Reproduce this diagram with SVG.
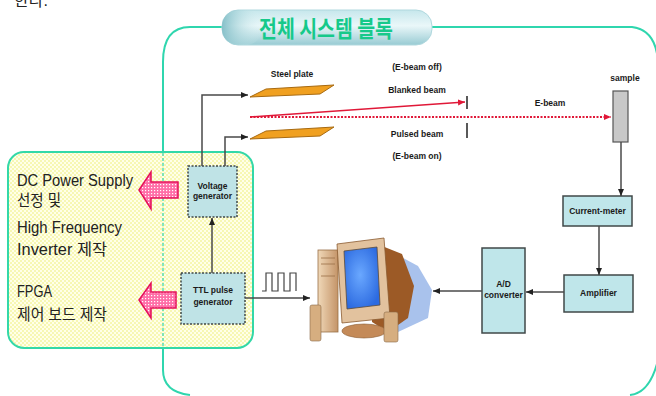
<svg xmlns="http://www.w3.org/2000/svg" width="656" height="396" viewBox="0 0 656 396">
  <style>
    .frame { fill: none; stroke: #2fd6ae; stroke-width: 2; }
    .wire { fill: none; stroke: #4a4a4a; stroke-width: 1.5; }
    .box { fill: #bfe6ea; stroke: #404848; stroke-width: 1.5; }
    .gen { fill: #bfe3e6; stroke: #404848; stroke-width: 1.5; stroke-dasharray: 2 1.5; }
    .lbl { font-family: "Liberation Sans", Arial, sans-serif; font-weight: bold; font-size: 8.5px; fill: #1a1a1a; text-anchor: middle; }
    .big { font-family: "Liberation Sans", "Noto Sans CJK KR", sans-serif; font-size: 16px; fill: #222; }
    .plate { fill: #f0a020; stroke: #a86a10; stroke-width: 1; }
    .note { fill: url(#pinkDots); stroke: #e4105a; stroke-width: 1.5; }
  </style>
  <defs>
    <marker id="arr" markerWidth="8" markerHeight="8" refX="7" refY="4" orient="auto" markerUnits="userSpaceOnUse">
      <path d="M0,1 L7,4 L0,7 Z" fill="#222"/>
    </marker>
    <marker id="arrRed" markerWidth="8" markerHeight="8" refX="7" refY="4" orient="auto" markerUnits="userSpaceOnUse">
      <path d="M0,1 L7,4 L0,7 Z" fill="#e01838"/>
    </marker>
    <pattern id="yellowDots" width="4" height="4" patternUnits="userSpaceOnUse">
      <rect width="4" height="4" fill="#ffffe8"/>
      <circle cx="1" cy="1" r="0.8" fill="#eeee70"/>
      <circle cx="3" cy="3" r="0.8" fill="#eeee70"/>
    </pattern>
    <pattern id="pinkDots" width="3" height="3" patternUnits="userSpaceOnUse">
      <rect width="3" height="3" fill="#ff6fa8"/>
      <rect x="1" y="1" width="1.2" height="1.2" fill="#ffffff"/>
    </pattern>
    <linearGradient id="pill" x1="0" y1="0" x2="0" y2="1">
      <stop offset="0" stop-color="#c6e7ec"/>
      <stop offset="0.45" stop-color="#eaf7f9"/>
      <stop offset="1" stop-color="#98cbd3"/>
    </linearGradient>
    <linearGradient id="pillCap" x1="0" y1="0" x2="1" y2="0">
      <stop offset="0" stop-color="#86c0c9"/>
      <stop offset="1" stop-color="#d8f0f2" stop-opacity="0"/>
    </linearGradient>
    <radialGradient id="screen" cx="0.45" cy="0.45" r="0.6">
      <stop offset="0" stop-color="#6aa8ff"/>
      <stop offset="1" stop-color="#2c6ae0"/>
    </radialGradient>
    <linearGradient id="tower" x1="0" y1="0" x2="1" y2="0">
      <stop offset="0" stop-color="#f0d8b8"/>
      <stop offset="1" stop-color="#c49468"/>
    </linearGradient>
  </defs>

  <!-- sentence ending running off the top edge -->
  <text x="14" y="6" class="big">한다.</text>

  <!-- outer system frame -->
  <path class="frame" d="M163,370 L163,62 Q163,27 190,27 L222,27 M432,27 L632,27 Q656,30 658,62 M658,360 Q650,393 630,395 M190,395 Q163,392 163,370"/>

  <!-- title capsule -->
  <g id="title">
    <rect x="222" y="10" width="210" height="35" rx="16" fill="url(#pill)" stroke="#b0d8de" stroke-width="1"/>
    <rect x="222" y="10" width="40" height="35" rx="16" fill="url(#pillCap)"/>
    <text x="326" y="37" text-anchor="middle" textLength="134" lengthAdjust="spacingAndGlyphs" font-family="'Noto Sans CJK KR', sans-serif" font-weight="bold" font-size="23" fill="#16c98a">전체 시스템 블록</text>
  </g>

  <!-- development tasks panel -->
  <g id="tasks">
    <rect x="8" y="152" width="245" height="196" rx="16" fill="url(#yellowDots)" stroke="#33d8a8" stroke-width="2"/>
    <line x1="163" y1="153" x2="163" y2="347" stroke="#2fd6ae" stroke-width="1.2" stroke-dasharray="3 2"/>
    <text class="big" x="17" y="186" textLength="116" lengthAdjust="spacingAndGlyphs">DC Power Supply</text>
    <text class="big" x="17" y="206" textLength="44" lengthAdjust="spacingAndGlyphs">선정 및</text>
    <text class="big" x="17" y="233" textLength="105" lengthAdjust="spacingAndGlyphs">High Frequency</text>
    <text class="big" x="17" y="255" textLength="90" lengthAdjust="spacingAndGlyphs">Inverter 제작</text>
    <text class="big" x="17" y="297" textLength="35" lengthAdjust="spacingAndGlyphs">FPGA</text>
    <text class="big" x="17" y="320" textLength="90" lengthAdjust="spacingAndGlyphs">제어 보드 제작</text>
  </g>

  <g id="note-power">
    <path class="note" d="M139,190 L151,172 L151,182 L178,182 L178,198 L151,198 L151,209 Z"/>
  </g>
  <g id="note-fpga">
    <path class="note" d="M139,300 L151,283 L151,292 L176,292 L176,308 L151,308 L151,318 Z"/>
  </g>

  <g id="voltage-generator">
    <rect class="gen" x="188" y="166" width="49" height="51"/>
    <text class="lbl" x="212.5" y="189" font-size="7.5">Voltage</text>
    <text class="lbl" x="212.5" y="199" font-size="7.5">generator</text>
  </g>

  <g id="ttl-generator">
    <rect class="gen" x="181" y="273" width="64" height="51"/>
    <text class="lbl" x="213" y="293" font-size="7.5">TTL pulse</text>
    <text class="lbl" x="213" y="305" font-size="7.5">generator</text>
  </g>

  <g id="steel-plates">
    <polygon class="plate" points="250,97 266,89 334,85 320,94"/>
    <polygon class="plate" points="250,139 266,131 334,127 320,136"/>
    <text class="lbl" x="292" y="77">Steel plate</text>
  </g>

  <g id="beam-labels">
    <text class="lbl" x="417" y="70">(E-beam off)</text>
    <text class="lbl" x="417" y="93">Blanked beam</text>
    <text class="lbl" x="417" y="137">Pulsed beam</text>
    <text class="lbl" x="417" y="159">(E-beam on)</text>
    <text class="lbl" x="550" y="106" font-size="9.5" fill="#e01838">E-beam</text>
  </g>

  <g id="sample">
    <rect x="613" y="91" width="15" height="51" fill="#c8c8c8" stroke="#555" stroke-width="1.2"/>
    <text class="lbl" x="625" y="81">sample</text>
  </g>

  <g id="current-meter">
    <rect class="box" x="563" y="196" width="69" height="30"/>
    <text class="lbl" x="597.5" y="214">Current-meter</text>
  </g>

  <g id="amplifier">
    <rect class="box" x="564" y="275" width="69" height="37"/>
    <text class="lbl" x="598.5" y="296">Amplifier</text>
  </g>

  <g id="ad-converter">
    <rect class="box" x="482" y="248" width="43" height="85"/>
    <text class="lbl" x="503.5" y="287">A/D</text>
    <text class="lbl" x="503.5" y="298">converter</text>
  </g>

  <!-- desktop computer -->
  <g id="computer">
    <path d="M392,252 L418,266 L432,290 L428,318 L398,332 Z" fill="#a9c2ec"/>
    <path d="M372,242 L402,254 L414,286 L408,318 L388,332 L372,322 Z" fill="#9c5a26"/>
    <rect x="318" y="250" width="20" height="82" fill="url(#tower)" stroke="#9a7048" stroke-width="0.8"/>
    <line x1="321" y1="258" x2="335" y2="258" stroke="#9a7048" stroke-width="0.8"/>
    <line x1="321" y1="264" x2="335" y2="264" stroke="#9a7048" stroke-width="0.8"/>
    <line x1="321" y1="276" x2="335" y2="276" stroke="#9a7048" stroke-width="0.8"/>
    <path d="M337,244 L384,238 L390,318 L342,323 Z" fill="#e2c29e" stroke="#8a5a30" stroke-width="0.8"/>
    <path d="M344,251 L377,247 L380,305 L347,309 Z" fill="url(#screen)" stroke="#5a4a3a" stroke-width="0.8"/>
    <ellipse cx="364" cy="331" rx="22" ry="7" fill="#c48a58" stroke="#8a5a30" stroke-width="0.6"/>
    <rect x="310" y="305" width="11" height="36" rx="2" fill="#d6ae80" stroke="#8a6a48" stroke-width="0.6"/>
    <rect x="384" y="312" width="14" height="30" rx="2" fill="#d6ae80" stroke="#8a6a48" stroke-width="0.6"/>
  </g>

  <!-- TTL pulse train -->
  <path d="M262,291 L266,291 L266,273 L272,273 L272,291 L278,291 L278,273 L284,273 L284,291 L290,291 L290,273 L296,273 L296,291" fill="none" stroke="#444" stroke-width="1.2"/>

  <g id="connectors">
    <path class="wire" d="M202,166 L202,95 L248,95" marker-end="url(#arr)"/>
    <path class="wire" d="M225,166 L225,137 L248,137" marker-end="url(#arr)"/>
    <path class="wire" d="M212,273 L212,218" marker-end="url(#arr)"/>
    <path class="wire" d="M245,298 L310,298" marker-end="url(#arr)"/>
    <path class="wire" d="M621,142 L621,196" marker-end="url(#arr)"/>
    <path class="wire" d="M599,226 L599,275" marker-end="url(#arr)"/>
    <path class="wire" d="M564,292 L526,292" marker-end="url(#arr)"/>
    <path class="wire" d="M482,291 L433,291" marker-end="url(#arr)"/>
    <!-- deflected and straight beams -->
    <line x1="250" y1="117" x2="611" y2="117" stroke="#e01838" stroke-width="2" stroke-dasharray="2 1.5" marker-end="url(#arrRed)"/>
    <line x1="250" y1="117" x2="465" y2="102" stroke="#e01838" stroke-width="1.5" marker-end="url(#arrRed)"/>
    <line x1="467" y1="96" x2="467" y2="109" stroke="#222" stroke-width="1.5"/>
    <line x1="467" y1="123" x2="467" y2="138" stroke="#222" stroke-width="1.5"/>
  </g>
</svg>
